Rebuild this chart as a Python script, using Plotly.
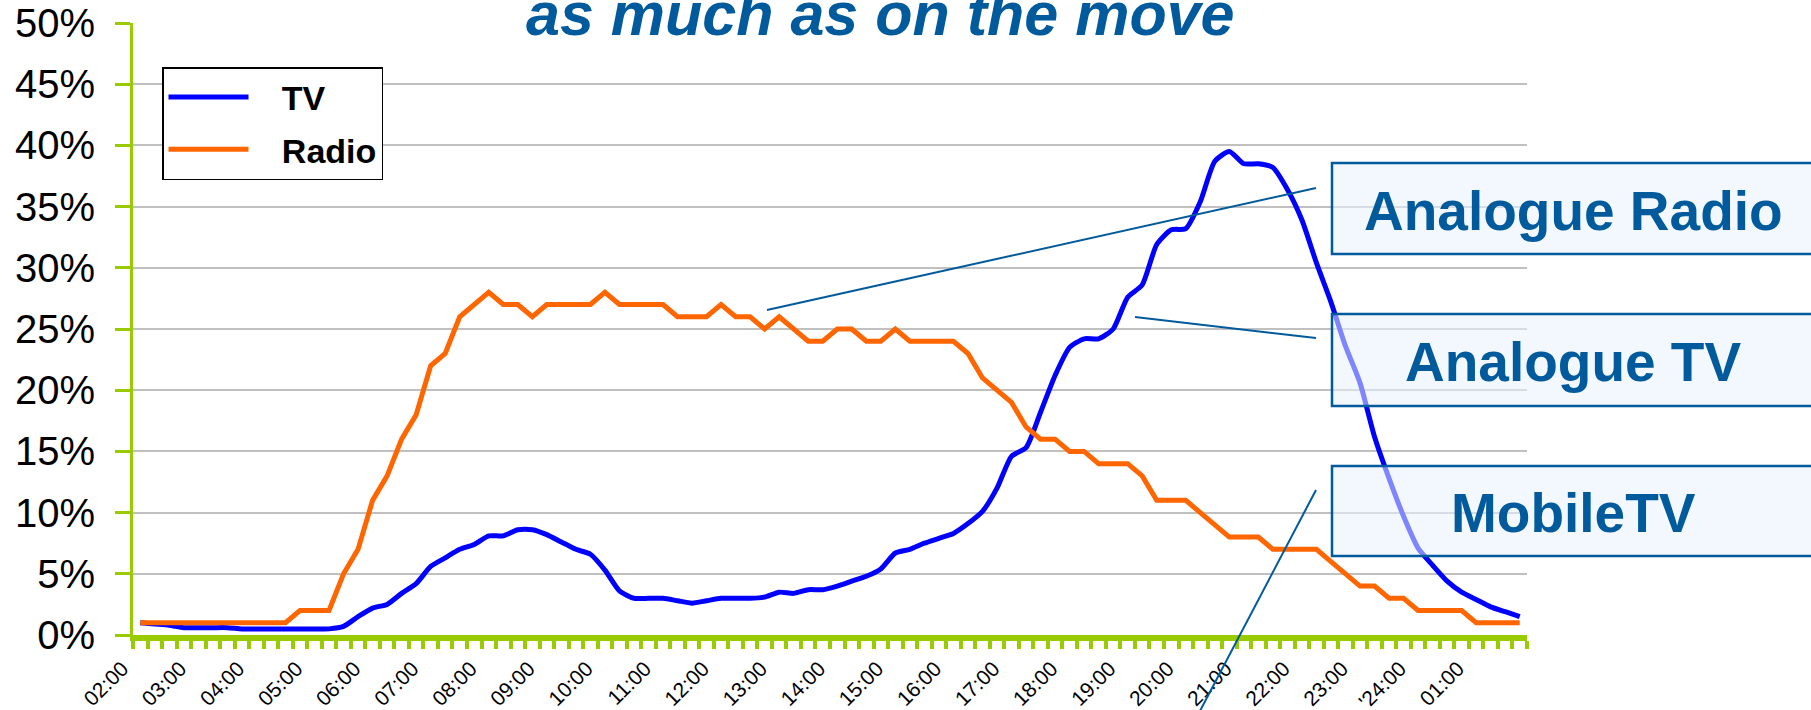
import plotly.graph_objects as go

# ---- data ----
time_labels = ["02:00", "03:00", "04:00", "05:00", "06:00", "07:00", "08:00", "09:00",
               "10:00", "11:00", "12:00", "13:00", "14:00", "15:00", "16:00", "17:00",
               "18:00", "19:00", "20:00", "21:00", "22:00", "23:00", "'24:00", "01:00"]

tv = [1.0, 0.9, 0.8, 0.6, 0.6, 0.6, 0.6, 0.5, 0.5, 0.5, 0.5, 0.5, 0.5, 0.5, 0.7, 1.5,
      2.2, 2.5, 3.4, 4.2, 5.6, 6.3, 7.0, 7.4, 8.1, 8.1, 8.6, 8.6, 8.2, 7.6, 7.0, 6.6,
      5.3, 3.6, 3.0, 3.0, 3.0, 2.8, 2.6, 2.8, 3.0, 3.0, 3.0, 3.1, 3.5, 3.4, 3.7, 3.7,
      4.0, 4.4, 4.8, 5.4, 6.7, 7.0, 7.5, 7.9, 8.3, 9.1, 10.1, 12.0, 14.6, 15.3, 18.2, 21.2,
      23.5, 24.2, 24.2, 25.0, 27.6, 28.6, 31.9, 33.1, 33.2, 35.4, 38.7, 39.5, 38.5, 38.5, 38.2, 36.4,
      33.9, 30.4, 27.2, 23.6, 20.6, 16.2, 12.8, 9.7, 7.1, 5.7, 4.4, 3.5, 2.9, 2.3, 1.9, 1.5]

radio = [1, 1, 1, 1, 1, 1, 1, 1, 1, 1, 1, 2, 2, 2, 5, 7,
         11, 13, 16, 18, 22, 23, 26, 27, 28, 27, 27, 26, 27, 27, 27, 27,
         28, 27, 27, 27, 27, 26, 26, 26, 27, 26, 26, 25, 26, 25, 24, 24,
         25, 25, 24, 24, 25, 24, 24, 24, 24, 23, 21, 20, 19, 17, 16, 16,
         15, 15, 14, 14, 14, 13, 11, 11, 11, 10, 9, 8, 8, 8, 7, 7,
         7, 7, 6, 5, 4, 4, 3, 3, 2, 2, 2, 2, 1, 1, 1, 1]

series_names = ["TV", "Radio"]
y_ticks = [0, 5, 10, 15, 20, 25, 30, 35, 40, 45, 50]
y_labels = [f"{v}%" for v in y_ticks]
callouts = ["Analogue Radio", "Analogue TV", "MobileTV"]
title_text = "as much as on the move"

# ---- figure geometry (pixels) ----
W, H = 1811, 710
L, R, T, B = 133, 1527, 23, 635
PW, PH = R - L, B - T


def xp(px):
    return (px - L) / PW


def yp(py):
    return (B - py) / PH


idx = list(range(len(tv)))
FONT = "Liberation Sans, Arial, sans-serif"
BLUE_TXT = "#005A9C"
GREEN = "#99CC00"
GAP = "\u00a0\u00a0\u00a0"  # visual gap between legend line and label

fig = go.Figure()
fig.add_trace(go.Scatter(x=idx, y=tv, name=GAP + series_names[0], mode="lines", legendgroup="a",
                         line=dict(color="#0000FF", width=5, shape="spline", smoothing=0.6)))
fig.add_trace(go.Scatter(x=idx, y=radio, name=GAP + series_names[1], mode="lines", legendgroup="b",
                         line=dict(color="#FF6600", width=5)))

fig.update_layout(
    width=W, height=H,
    margin=dict(l=L, r=W - R, t=T, b=H - B, pad=0, autoexpand=False),
    paper_bgcolor="white", plot_bgcolor="white",
    font=dict(family=FONT, color="black"),
    showlegend=True,
    legend=dict(x=xp(162), y=yp(67), xanchor="left", yanchor="top",
                bgcolor="white", bordercolor="black", borderwidth=1.5,
                font=dict(size=34, color="black", weight="bold"),
                tracegroupgap=5, itemwidth=80),
)

fig.update_xaxes(
    automargin=False,
    range=[-0.5, len(tv) - 0.5],
    tickmode="array", tickvals=idx[::4], ticktext=time_labels,
    tickangle=-45, tickfont=dict(size=21, color="black"),
    ticks="outside", ticklen=7, tickcolor="rgba(0,0,0,0)",
    ticklabelshift=-18,
    minor=dict(tickmode="linear", tick0=-0.5, dtick=1, ticks="outside",
               ticklen=8, tickwidth=4, tickcolor=GREEN, showgrid=False),
    showline=True, linecolor=GREEN, linewidth=6,
    showgrid=False, zeroline=False,
)

fig.update_yaxes(
    automargin=False,
    range=[0, 50], tickmode="array", tickvals=y_ticks, ticktext=y_labels,
    tickfont=dict(size=40, color="black"),
    ticks="outside", ticklen=15, tickwidth=3, tickcolor=GREEN,
    ticklabelstandoff=12,
    showline=True, linecolor=GREEN, linewidth=3,
    showgrid=True, gridcolor="#C0C0C0", gridwidth=2, zeroline=False,
)

# title (partially cut at top as in the reference)
fig.add_annotation(text="<b><i>" + title_text + "</i></b>", xref="paper", yref="paper",
                   x=xp(880), y=yp(50), xanchor="center", yanchor="bottom",
                   showarrow=False, font=dict(size=61, color=BLUE_TXT, family=FONT))

# callout leader lines
leaders = [((767, 310), (1316, 188)), ((1135, 317), (1316, 338)), ((1316, 490), (1190, 730))]
for (x0, y0), (x1, y1) in leaders:
    fig.add_shape(type="line", xref="paper", yref="paper",
                  x0=xp(x0), y0=yp(y0), x1=xp(x1), y1=yp(y1),
                  line=dict(color=BLUE_TXT, width=2), layer="above")

# callout boxes
boxes = [(163, 254), (314, 406), (466, 556)]
for (top, bot), label in zip(boxes, callouts):
    fig.add_shape(type="rect", xref="paper", yref="paper",
                  x0=xp(1332), x1=xp(1830), y0=yp(bot), y1=yp(top),
                  line=dict(color=BLUE_TXT, width=2.5),
                  fillcolor="rgba(232,243,253,0.55)", layer="above")
    fig.add_annotation(text="<b>" + label + "</b>", xref="paper", yref="paper",
                       x=xp(1573), y=yp((top + bot) / 2 + 2), xanchor="center", yanchor="middle",
                       showarrow=False, font=dict(size=55, color=BLUE_TXT, family=FONT))

fig.write_html("out.html", config={"displayModeBar": False},
               post_script="document.body.style.margin='0';document.body.style.overflow='hidden';")
